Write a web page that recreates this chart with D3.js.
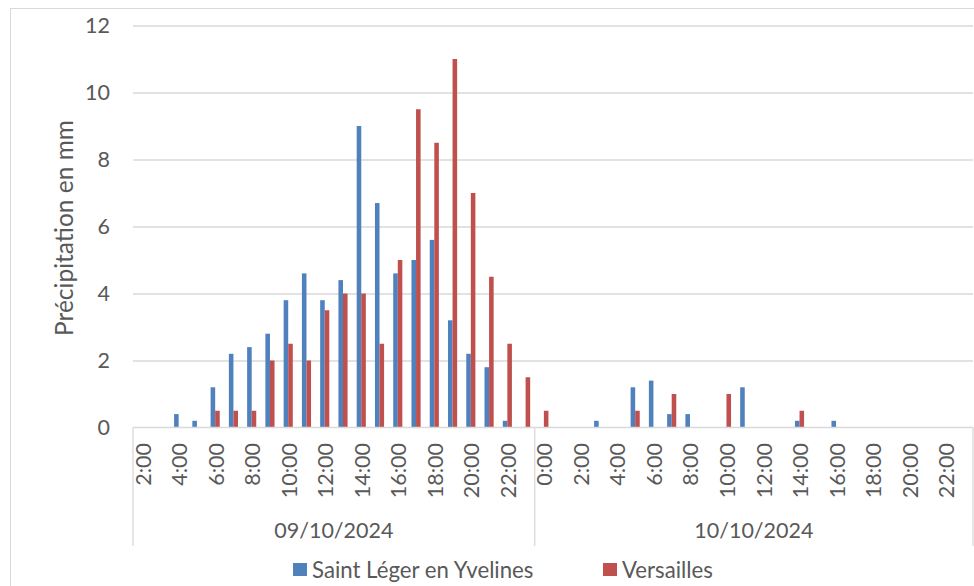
<!DOCTYPE html>
<html>
<head>
<meta charset="utf-8">
<script src="https://cdn.jsdelivr.net/npm/d3@7"></script>
<style>
  body { margin: 0; background: #fff; }
  text { font-family: Lato, "Noto Sans", sans-serif; fill: #595959; }
</style>
</head>
<body>
<div id="chart"></div>
<script>
// days (first level of the category axis)
var days = ["09/10/2024", "10/10/2024"];

// hours (second level), one list per day
var hours1 = ["2:00", "3:00", "4:00", "5:00", "6:00", "7:00", "8:00", "9:00", "10:00", "11:00", "12:00",
    "13:00", "14:00", "15:00", "16:00", "17:00", "18:00", "19:00", "20:00", "21:00", "22:00", "23:00"];
var hours2 = ["0:00", "1:00", "2:00", "3:00", "4:00", "5:00", "6:00", "7:00", "8:00", "9:00", "10:00", "11:00",
    "12:00", "13:00", "14:00", "15:00", "16:00", "17:00", "18:00", "19:00", "20:00", "21:00", "22:00", "23:00"];

// hour labels written on the axis
var hourTicks = ["0:00", "2:00", "4:00", "6:00", "8:00", "10:00", "12:00", "14:00", "16:00", "18:00", "20:00", "22:00"];

// precipitation in mm
var stLeger1 = [0, 0, 0.4, 0.2, 1.2, 2.2, 2.4, 2.8, 3.8, 4.6, 3.8, 4.4, 9, 6.7, 4.6, 5, 5.6, 3.2, 2.2, 1.8, 0.2, 0];
var stLeger2 = [0, 0, 0, 0.2, 0, 1.2, 1.4, 0.4, 0.4, 0, 0, 1.2, 0, 0, 0.2, 0, 0.2, 0, 0, 0, 0, 0, 0, 0];
var versailles1 = [0, 0, 0, 0, 0.5, 0.5, 0.5, 2, 2.5, 2, 3.5, 4, 4, 2.5, 5, 9.5, 8.5, 11, 7, 4.5, 2.5, 1.5];
var versailles2 = [0.5, 0, 0, 0, 0, 0.5, 0, 1, 0, 0, 1, 0, 0, 0, 0.5, 0, 0, 0, 0, 0, 0, 0, 0, 0];

var seriesNames = ["Saint Léger en Yvelines", "Versailles"];
var colors = ["#4F81BD", "#C0504D"];

var yTicks = [0, 2, 4, 6, 8, 10, 12];

// build one row per hour
var data = [];
hours1.forEach(function (h, i) {
    data.push({key: days[0] + " " + h, day: days[0], hour: h, values: [stLeger1[i], versailles1[i]]});
});
hours2.forEach(function (h, i) {
    data.push({key: days[1] + " " + h, day: days[1], hour: h, values: [stLeger2[i], versailles2[i]]});
});

var width = 974, height = 586;
var plot = {left: 133, right: 973, top: 25.5, bottom: 427.5};

var svg = d3.select("#chart")
    .append("svg")
    .attr("width", width)
    .attr("height", height);

// chart border
svg.append("rect")
    .attr("x", 10.5).attr("y", 8.5)
    .attr("width", 990).attr("height", 600)
    .attr("fill", "none")
    .attr("stroke", "#d9d9d9");

var x = d3.scaleBand()
    .domain(data.map(function (d) { return d.key; }))
    .range([plot.left, plot.right])
    .padding(0);
var step = x.step();

var xs = d3.scaleBand()
    .domain([0, 1])
    .range([step * 0.25, step * 0.75]);

var y = d3.scaleLinear()
    .domain([0, 12])
    .range([plot.bottom, plot.top]);

// gridlines
svg.append("g")
    .attr("transform", "translate(" + plot.left + ",0)")
    .call(d3.axisLeft(y).tickValues(yTicks.slice(1)).tickSize(-(plot.right - plot.left)).tickFormat(""))
    .call(function (g) { g.select(".domain").remove(); })
    .selectAll("line")
    .attr("stroke", "#d9d9d9")
    .attr("stroke-width", 1.3);

// y axis labels
svg.append("g")
    .attr("transform", "translate(" + plot.left + ",0)")
    .call(d3.axisLeft(y).tickValues(yTicks).tickSize(0).tickPadding(23))
    .call(function (g) { g.select(".domain").remove(); })
    .selectAll("text")
    .style("font-size", "21.5px")
    .style("font-family", "Lato, sans-serif")
    .attr("fill", "#595959");

svg.append("text")
    .attr("transform", "rotate(-90)")
    .attr("x", -228)
    .attr("y", 64)
    .attr("dy", "0.35em")
    .attr("text-anchor", "middle")
    .style("font-size", "24.5px")
    .text("Précipitation en mm");

// bars
var groups = svg.append("g")
    .selectAll("g")
    .data(data)
    .enter()
    .append("g")
    .attr("transform", function (d) { return "translate(" + x(d.key) + ",0)"; });

groups.selectAll("rect")
    .data(function (d) { return d.values.map(function (v, i) { return {s: i, v: v}; }); })
    .enter()
    .filter(function (d) { return d.v > 0; })
    .append("rect")
    .attr("x", function (d) { return xs(d.s); })
    .attr("y", function (d) { return y(d.v); })
    .attr("width", xs.bandwidth())
    .attr("height", function (d) { return y(0) - y(d.v); })
    .attr("fill", function (d) { return colors[d.s]; });

// category axis line
svg.append("line")
    .attr("x1", plot.left).attr("x2", plot.right)
    .attr("y1", plot.bottom).attr("y2", plot.bottom)
    .attr("stroke", "#d9d9d9")
    .attr("stroke-width", 1.3);

// hour labels
var hourAxis = svg.append("g")
    .attr("transform", "translate(0," + plot.bottom + ")")
    .call(d3.axisBottom(x)
        .tickValues(data.filter(function (d) { return hourTicks.indexOf(d.hour) >= 0; }).map(function (d) { return d.key; }))
        .tickSize(0)
        .tickFormat(function (k) { return k.split(" ")[1]; }));
hourAxis.select(".domain").remove();
hourAxis.selectAll("text")
    .attr("transform", "rotate(-90)")
    .attr("x", -15.5)
    .attr("y", 1)
    .attr("dy", "0.35em")
    .attr("text-anchor", "end")
    .style("font-size", "21.5px")
    .style("font-family", "Lato, sans-serif")
    .attr("fill", "#595959");

// day separators and day labels
var dayBounds = days.map(function (day) {
    var keys = data.filter(function (d) { return d.day === day; });
    return {day: day, x0: x(keys[0].key), x1: x(keys[keys.length - 1].key) + step};
});

svg.append("g")
    .selectAll("line")
    .data([dayBounds[0].x0, dayBounds[1].x0, dayBounds[1].x1])
    .enter()
    .append("line")
    .attr("x1", function (d) { return d; })
    .attr("x2", function (d) { return d; })
    .attr("y1", plot.bottom)
    .attr("y2", 546)
    .attr("stroke", "#d9d9d9")
    .attr("stroke-width", 1.3);

svg.append("g")
    .selectAll("text")
    .data(dayBounds)
    .enter()
    .append("text")
    .attr("x", function (d) { return (d.x0 + d.x1) / 2; })
    .attr("y", 530)
    .attr("dy", "0.35em")
    .attr("text-anchor", "middle")
    .style("font-size", "21.5px")
    .text(function (d) { return d.day; });

// legend
var legendX = [293, 603];
var legend = svg.append("g")
    .selectAll("g")
    .data(seriesNames)
    .enter()
    .append("g")
    .attr("transform", function (d, i) { return "translate(" + legendX[i] + ",563)"; });
legend.append("rect")
    .attr("width", 14)
    .attr("height", 13)
    .attr("fill", function (d, i) { return colors[i]; });
legend.append("text")
    .attr("x", 19)
    .attr("y", 7)
    .attr("dy", "0.35em")
    .style("font-size", "22.2px")
    .text(function (d) { return d; });
</script>
</body>
</html>
